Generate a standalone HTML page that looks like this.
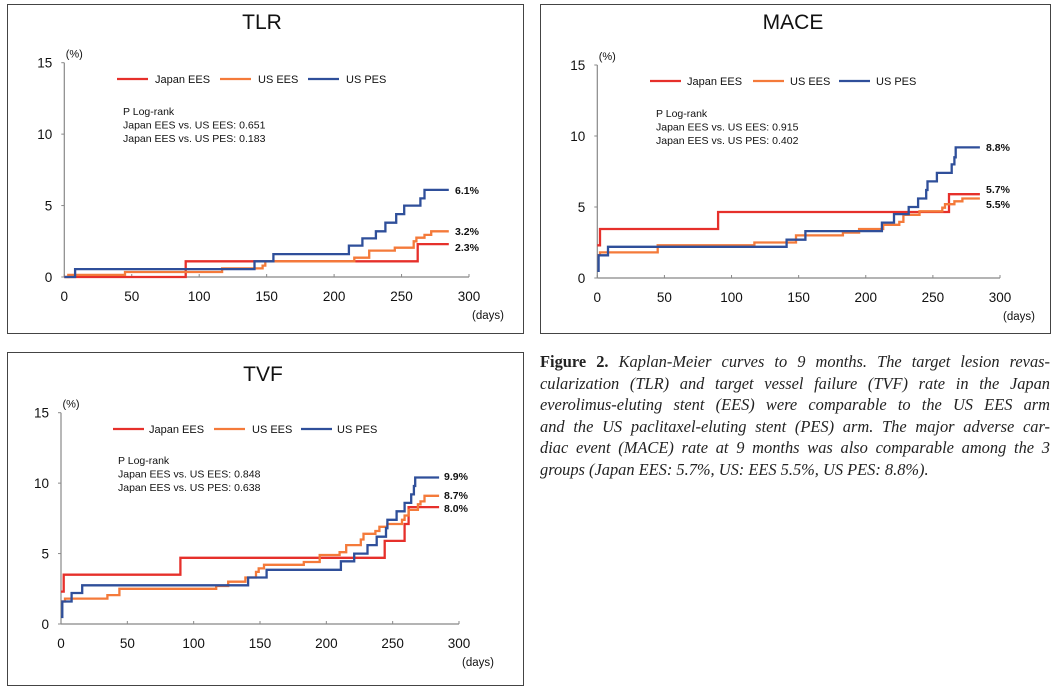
<!DOCTYPE html>
<html><head><meta charset="utf-8">
<style>
html,body{margin:0;padding:0;background:#fff;}
body{width:1057px;height:691px;overflow:hidden;position:relative;}
svg{position:absolute;left:0;top:0;}
.cap{position:absolute;left:540px;top:351px;width:510px;font-family:"Liberation Serif",serif;font-style:italic;font-size:16.4px;line-height:21.6px;color:#222;}
.cap div{white-space:nowrap;text-align:justify;text-align-last:justify;}
.cap div.last{text-align-last:left;}
.cap b{font-style:normal;}
</style></head>
<body>
<svg id="fig" width="1057" height="691" viewBox="0 0 1057 691"></svg>
<div class="cap">
<div><b>Figure 2.</b> Kaplan-Meier curves to 9 months. The target lesion revas-</div>
<div>cularization (TLR) and target vessel failure (TVF) rate in the Japan</div>
<div>everolimus-eluting stent (EES) were comparable to the US EES arm</div>
<div>and the US paclitaxel-eluting stent (PES) arm. The major adverse car-</div>
<div>diac event (MACE) rate at 9 months was also comparable among the 3</div>
<div class="last">groups (Japan EES: 5.7%, US: EES 5.5%, US PES: 8.8%).</div>
</div>
<script>
// ---- data ----
const xTicks = [0,50,100,150,200,250,300];
const yTicks = [0,5,10,15];
const seriesNames = ["Japan EES","US EES","US PES"];

const tlrJapanDays = [0,90,262,285];
const tlrJapanVals = [0,1.1,2.3,2.3];
const tlrUsEesDays = [0,3,45,117,147,149,215,226,245,259,261,267,272,285];
const tlrUsEesVals = [0,0.15,0.35,0.6,0.8,1.1,1.35,1.85,2.05,2.5,2.75,2.95,3.2,3.2];
const tlrUsPesDays = [0,8,141,155,211,221,231,238,246,252,264,267,285];
const tlrUsPesVals = [0,0.55,1.1,1.6,2.2,2.7,3.2,3.8,4.4,5.0,5.5,6.1,6.1];
const tlrPLines = ["P Log-rank","Japan EES vs. US EES: 0.651","Japan EES vs. US PES: 0.183"];
const tlrEndLabels = ["2.3%","3.2%","6.1%"];

const maceJapanDays = [0,2,90,262,285];
const maceJapanVals = [2.3,3.45,4.65,5.9,5.9];
const maceUsEesDays = [0,2,45,117,148,183,195,213,225,228,240,257,259,266,272,285];
const maceUsEesVals = [1.6,1.8,2.3,2.5,3.0,3.2,3.45,3.75,3.95,4.45,4.7,4.95,5.2,5.4,5.6,5.6];
const maceUsPesDays = [0,1,8,141,155,212,221,232,239,245,246,253,264,266,267,285];
const maceUsPesVals = [0.5,1.6,2.2,2.7,3.3,3.9,4.5,5.0,5.6,6.2,6.8,7.4,8.0,8.5,9.2,9.2];
const macePLines = ["P Log-rank","Japan EES vs. US EES: 0.915","Japan EES vs. US PES: 0.402"];
const maceEndLabels = ["5.7%","5.5%","8.8%"];

const tvfJapanDays = [0,2,90,244,259,262,285];
const tvfJapanVals = [2.3,3.5,4.7,5.9,7.1,8.3,8.3];
const tvfUsEesDays = [0,3,35,44,117,126,139,147,149,153,183,195,210,215,226,228,237,240,246,257,259,262,269,271,274,285];
const tvfUsEesVals = [1.6,1.8,2.05,2.5,2.7,3.0,3.3,3.7,3.95,4.2,4.4,4.9,5.1,5.6,6.0,6.4,6.6,6.9,7.1,7.4,7.7,8.1,8.5,8.7,9.1,9.1];
const tvfUsPesDays = [0,1,8,16,141,155,211,221,231,238,245,246,253,259,264,266,267,285];
const tvfUsPesVals = [0.5,1.6,2.2,2.75,3.3,3.85,4.45,5.0,5.6,6.2,6.8,7.4,8.0,8.6,9.2,9.8,10.4,10.4];
const tvfPLines = ["P Log-rank","Japan EES vs. US EES: 0.848","Japan EES vs. US PES: 0.638"];
const tvfEndLabels = ["8.0%","8.7%","9.9%"];

const colors = ["#e6302b","#f47a3a","#2f4f9a"];
const NS = "http://www.w3.org/2000/svg";
const svg = document.getElementById("fig");
function mk(tag, attrs, parent){
  const e = document.createElementNS(NS, tag);
  for (const k in attrs) e.setAttribute(k, attrs[k]);
  (parent||svg).appendChild(e);
  return e;
}
function txt(parent, x, y, s, size, anchor, weight){
  const t = mk("text",{x:x,y:y,"font-family":"Liberation Sans, Arial, sans-serif","font-size":size,"text-anchor":anchor||"start","fill":"#111","font-weight":weight||"normal"},parent);
  t.textContent = s;
  return t;
}

function drawChart(c){
  const g = mk("g",{});
  
  
  const box = mk("rect",{x:c.box[0]+0.5,y:c.box[1]+0.5,width:c.box[2],height:c.box[3],fill:"none",stroke:"#444","stroke-width":1},g);
  
  
  const title = txt(g, c.title[0], c.title[1], c.titleText, 21, "middle");
  
  
  const X = d => c.x0 + (c.x300 - c.x0) * d / 300;
  const Y = v => c.y0 - (c.y0 - c.y15) * v / 15;
  const ax = mk("g",{},g);
  
  
  mk("line",{x1:X(0),y1:Y(0),x2:X(300),y2:Y(0),stroke:"#888","stroke-width":1.2},ax);
  mk("line",{x1:X(0),y1:Y(0),x2:X(0),y2:Y(15),stroke:"#888","stroke-width":1.2},ax);
  xTicks.forEach(t=>{
    mk("line",{x1:X(t),y1:Y(0),x2:X(t),y2:Y(0)-3,stroke:"#888","stroke-width":1},ax);
    const l = txt(ax, X(t), Y(0)+24, String(t), 13.5, "middle");
    
    
  });
  yTicks.forEach(t=>{
    mk("line",{x1:X(0)-3,y1:Y(t),x2:X(0),y2:Y(t),stroke:"#888","stroke-width":1},ax);
    const l = txt(ax, X(0)-12, Y(t)+5, String(t), 13.5, "end");
    
    
  });
  const yu = txt(ax, X(0)+10, Y(15)-5, "(%)", 11, "middle");
  
  
  const xu = txt(ax, X(300)+19, Y(0)+42, "(days)", 11.5, "middle");
  
  
  c.legend.forEach((L,i)=>{
    const lg = mk("g",{},g);
    
    
    mk("line",{x1:L[0],y1:c.legY,x2:L[0]+31,y2:c.legY,stroke:colors[i],"stroke-width":2.2},lg);
    txt(lg, L[1], c.legY+4, seriesNames[i], 11, "start");
  });
  const pg = mk("g",{},g);
  
  
  c.pLines.forEach((s,i)=> txt(pg, c.p[0], c.p[1] + i*13.5, s, 10.5, "start"));
  c.series.forEach((s,i)=>{
    const days = s[0], vals = s[1];
    let d = "M" + X(days[0]).toFixed(1) + "," + Y(vals[0]).toFixed(1);
    for (let k=1;k<days.length;k++){
      d += " H" + X(days[k]).toFixed(1) + " V" + Y(vals[k]).toFixed(1);
    }
    const p = mk("path",{d:d,fill:"none",stroke:colors[i],"stroke-width":2.3},g);
    
    
    const lab = txt(g, c.endX, c.endY[i], c.endLabels[i], 10.5, "start", "bold");
    
    
  });
}

drawChart({key:"tlr", titleText:"TLR", title:[262,29], box:[7,4,516,329],
  x0:64.3, x300:469, y0:277, y15:62.7,
  legY:79, legend:[[117,155],[220,258],[308,346]],
  p:[123,115], pLines:tlrPLines,
  series:[[tlrJapanDays,tlrJapanVals],[tlrUsEesDays,tlrUsEesVals],[tlrUsPesDays,tlrUsPesVals]],
  endX:455, endY:[251,235,194], endLabels:tlrEndLabels});

drawChart({key:"mace", titleText:"MACE", title:[793,29], box:[540,4,510,329],
  x0:597.3, x300:1000, y0:278, y15:65,
  legY:81, legend:[[650,687],[753,790],[839,876]],
  p:[656,117], pLines:macePLines,
  series:[[maceJapanDays,maceJapanVals],[maceUsEesDays,maceUsEesVals],[maceUsPesDays,maceUsPesVals]],
  endX:986, endY:[193,208,151], endLabels:maceEndLabels});

drawChart({key:"tvf", titleText:"TVF", title:[263,381], box:[7,352,516,333],
  x0:61, x300:459, y0:624, y15:412.7,
  legY:429, legend:[[113,149],[214,252],[301,337]],
  p:[118,464], pLines:tvfPLines,
  series:[[tvfJapanDays,tvfJapanVals],[tvfUsEesDays,tvfUsEesVals],[tvfUsPesDays,tvfUsPesVals]],
  endX:444, endY:[512,499,480], endLabels:tvfEndLabels});
</script>
</body></html>
